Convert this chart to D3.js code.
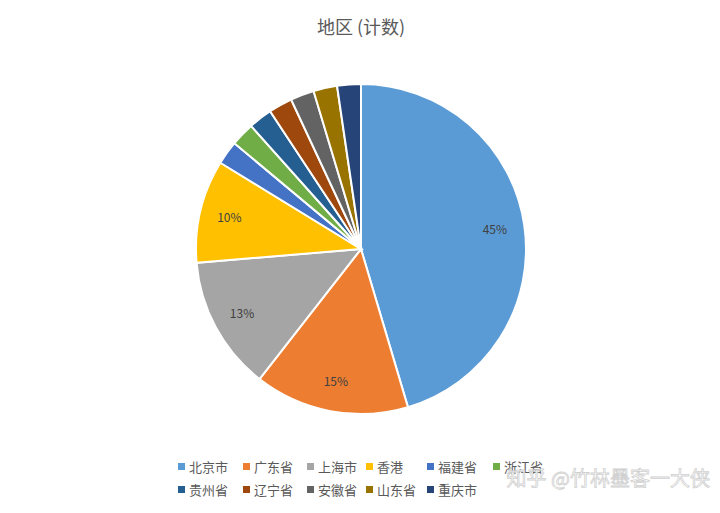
<!DOCTYPE html><html><head><meta charset="utf-8"><script src="https://cdn.jsdelivr.net/npm/d3@7"></script>
<style>body{margin:0;background:#fff}</style></head><body><svg id="c" width="720" height="513"></svg>
<script>
const categories=["北京市","广东省","上海市","香港","福建省","浙江省","贵州省","辽宁省","安徽省","山东省","重庆市"];
const values=[45,15,13,10,2.3,2.3,2.3,2.3,2.3,2.3,2.3];
const labels=["45%","15%","13%","10%","","","","","","",""];
const colors=["#5B9BD5","#ED7D31","#A5A5A5","#FFC000","#4472C4","#70AD47","#255E91","#9E480E","#636363","#997300","#264478"];
const svg=d3.select("#c");
const f="'Noto Sans CJK SC',sans-serif";
svg.append("text").attr("x",361).attr("y",34).attr("text-anchor","middle").attr("font-family",f).attr("font-size",18).attr("fill","#595959").text("地区 (计数)");
const cx=361,cy=249,r=165;
const pie=d3.pie().sort(null).value(d=>d)(values);
const arc=d3.arc().innerRadius(0).outerRadius(r);
const g=svg.append("g").attr("transform",`translate(${cx},${cy})`);
g.selectAll("path").data(pie).join("path").attr("d",arc).attr("fill",(d,i)=>colors[i]).attr("stroke","#fff").attr("stroke-width",2);
const la=d3.arc().innerRadius(r*0.82).outerRadius(r*0.82);
g.selectAll("text").data(pie).join("text").attr("transform",d=>`translate(${la.centroid(d)})`).attr("text-anchor","middle").attr("dy","0.35em").attr("font-family",f).attr("font-size",12).attr("fill","#404040").text((d,i)=>labels[i]);
const cols=[178,243,307,366,427,493];
const lg=svg.append("g");
categories.forEach((c,i)=>{const row=i<6?0:1,col=i<6?i:i-6;const x=cols[col],y=row?490:467;
lg.append("rect").attr("x",x).attr("y",y-4).attr("width",7).attr("height",7).attr("fill",colors[i]);
lg.append("text").attr("x",x+11).attr("y",y).attr("dy","0.35em").attr("font-family",f).attr("font-size",13).attr("fill","#595959").text(c);});
svg.append("text").attr("x",710).attr("y",486).attr("text-anchor","end").attr("font-family",f).attr("font-size",20).attr("fill","#fff").attr("stroke","#ccc").attr("stroke-width",0.8).attr("opacity",0.9).text("知乎 @竹林墨客一大侠");
</script></body></html>
